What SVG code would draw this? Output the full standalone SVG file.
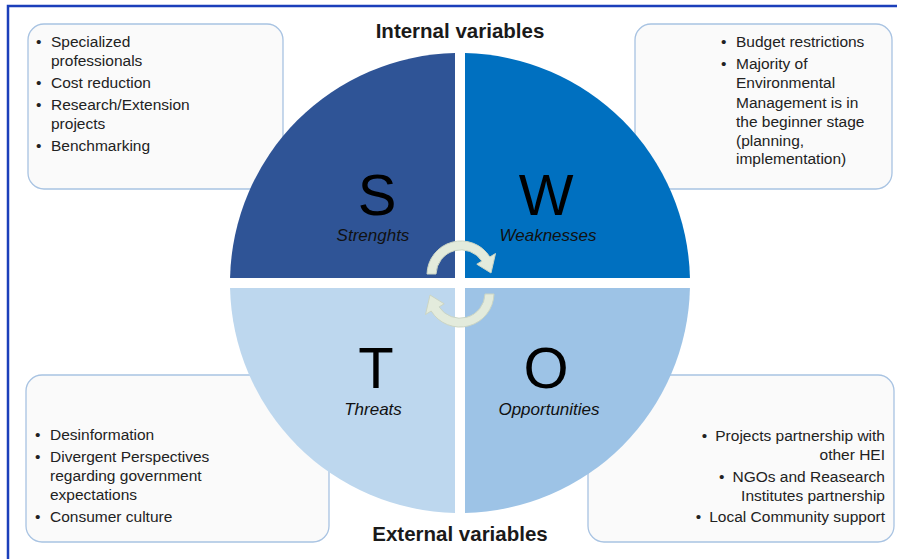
<svg xmlns="http://www.w3.org/2000/svg" width="897" height="559" viewBox="0 0 897 559">
<style>
.box{fill:#FAFAFA;stroke:#A8C3E2;stroke-width:1.3}
.t{font-family:"Liberation Sans",Arial,sans-serif;font-size:15.5px;fill:#222}
.b{font-family:"Liberation Sans",Arial,sans-serif;font-size:15.5px;fill:#222}
.big{font-family:"Liberation Sans",Arial,sans-serif;font-size:58px;fill:#000;text-anchor:middle}
.lab{font-family:"Liberation Sans",Arial,sans-serif;font-size:17px;font-style:italic;fill:#111;text-anchor:middle}
.head{font-family:"Liberation Sans",Arial,sans-serif;font-size:20.5px;font-weight:bold;fill:#1a1a1a;text-anchor:middle}
.arr{fill:#E3EBDC;stroke:#CBD5C4;stroke-width:1}
</style>
<rect x="0" y="0" width="897" height="559" fill="#fff"/>
<path d="M8,559 V6 H897" fill="none" stroke="#1B3FBA" stroke-width="2.5"/>

<g id="box-strengths">
<rect class="box" x="28" y="24" width="255" height="165" rx="16"/>
<text class="b" x="36" y="47">•</text><text class="t" x="51" y="47">Specialized</text>
<text class="t" x="51" y="66">professionals</text>
<text class="b" x="36" y="88">•</text><text class="t" x="51" y="88">Cost reduction</text>
<text class="b" x="36" y="110">•</text><text class="t" x="51" y="110">Research/Extension</text>
<text class="t" x="51" y="129">projects</text>
<text class="b" x="36" y="151">•</text><text class="t" x="51" y="151">Benchmarking</text>
</g>

<g id="box-weaknesses">
<rect class="box" x="635" y="24" width="257" height="165" rx="16"/>
<text class="b" x="721" y="47">•</text><text class="t" x="736" y="47">Budget restrictions</text>
<text class="b" x="721" y="69">•</text><text class="t" x="736" y="69">Majority of</text>
<text class="t" x="736" y="88">Environmental</text>
<text class="t" x="736" y="108">Management is in</text>
<text class="t" x="736" y="127">the beginner stage</text>
<text class="t" x="736" y="146">(planning,</text>
<text class="t" x="736" y="164">implementation)</text>
</g>

<g id="box-threats">
<rect class="box" x="26" y="375" width="303" height="167" rx="16"/>
<text class="b" x="35" y="440">•</text><text class="t" x="50" y="440">Desinformation</text>
<text class="b" x="35" y="462">•</text><text class="t" x="50" y="462">Divergent Perspectives</text>
<text class="t" x="50" y="481">regarding government</text>
<text class="t" x="50" y="500">expectations</text>
<text class="b" x="35" y="522">•</text><text class="t" x="50" y="522">Consumer culture</text>
</g>

<g id="box-opportunities">
<rect class="box" x="588" y="375" width="306" height="167" rx="16"/>
<text class="t" x="885" y="441" text-anchor="end"><tspan>•</tspan><tspan dx="8">Projects partnership with</tspan></text>
<text class="t" x="885" y="460" text-anchor="end">other HEI</text>
<text class="t" x="885" y="482" text-anchor="end"><tspan>•</tspan><tspan dx="8">NGOs and Reasearch</tspan></text>
<text class="t" x="885" y="501" text-anchor="end">Institutes partnership</text>
<text class="t" x="885" y="522" text-anchor="end"><tspan>•</tspan><tspan dx="8">Local Community support</tspan></text>
</g>

<g id="q-strengths">
<path d="M455,278 H230.05 A230,230 0 0 1 455,53.05 Z" fill="#2F5496"/>
<text class="big" x="377" y="215">S</text>
<text class="lab" x="373" y="241">Strenghts</text>
</g>
<g id="q-weaknesses">
<path d="M465,278 V53.05 A230,230 0 0 1 689.95,278 Z" fill="#0070C0"/>
<text class="big" x="546" y="215">W</text>
<text class="lab" x="548" y="241">Weaknesses</text>
</g>
<g id="q-threats">
<path d="M455,288 V512.95 A230,230 0 0 1 230.05,288 Z" fill="#BDD7EE"/>
<text class="big" x="376" y="388">T</text>
<text class="lab" x="373" y="415">Threats</text>
</g>
<g id="q-opportunities">
<path d="M465,288 H689.95 A230,230 0 0 1 465,512.95 Z" fill="#9DC3E6"/>
<text class="big" x="546" y="388">O</text>
<text class="lab" x="549" y="415">Opportunities</text>
</g>

<g id="heading-internal"><text class="head" x="460" y="38">Internal variables</text></g>
<g id="heading-external"><text class="head" x="460" y="541">External variables</text></g>

<g id="connectors">
<path id="arrow-top" class="arr" d="M427,274 A34,34 0 0 1 489.83,256.98 L495.5,253.5 L491,273 L476.8,264.2 L481.9,261.1 A25,25 0 0 0 436,274 Z"/>
<path id="arrow-bottom" class="arr" transform="rotate(180 460.5 284)" d="M427,274 A34,34 0 0 1 489.83,256.98 L495.5,253.5 L491,273 L476.8,264.2 L481.9,261.1 A25,25 0 0 0 436,274 Z"/>
</g>
</svg>
